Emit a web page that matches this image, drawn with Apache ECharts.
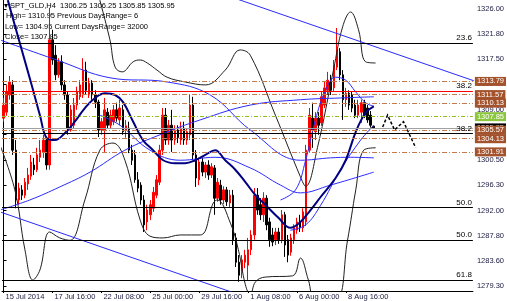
<!DOCTYPE html>
<html><head><meta charset="utf-8">
<script src="https://cdn.jsdelivr.net/npm/echarts@6/dist/echarts.min.js"></script>
<style>html,body{margin:0;padding:0;background:#fff}#c{width:507px;height:301px}</style>
</head><body><div id="c"></div>
<script>
// ---- data ----
const nSlots = 154;          // category slots across the plot (bars + right margin)
const tickStep = 16;         // bars between time labels
const xTickLabels = ['15 Jul 2014','17 Jul 16:00','22 Jul 08:00','25 Jul 00:00','29 Jul 16:00','1 Aug 08:00','6 Aug 00:00','8 Aug 16:00'];
const yTickValues = [1279.3,1283.6,1287.8,1292.0,1296.3,1300.5,1304.8,1309.0,1313.3,1317.5,1321.8,1326.0];

const opens = [1307.6,1308.6,1311.5,1313.2,1302.2,1293.8,1295.5,1294.6,1296.5,1297.8,
1299.7,1298.9,1301.0,1301.9,1303.9,1299.7,1320.8,1318.2,1314.9,1317.1,
1313.2,1311.5,1305.6,1306.4,1309.8,1311.2,1311.5,1315.7,1311.5,1313.5,
1311.5,1310.3,1305.6,1305.6,1308.6,1306.4,1307.0,1309.0,1307.3,1309.0,
1305.6,1305.9,1302.2,1301.4,1297.2,1296.3,1293.8,1290.1,1291.3,1292.4,
1294.6,1296.8,1302.2,1308.1,1303.9,1306.4,1303.9,1305.6,1303.9,1305.9,
1303.9,1304.8,1309.8,1301.4,1297.2,1300.2,1298.5,1299.7,1298.0,1299.2,
1294.1,1296.3,1293.8,1295.5,1293.3,1294.6,1287.4,1283.3,1281.7,1283.3,
1282.8,1285.4,1287.9,1294.6,1293.0,1291.3,1294.1,1290.1,1287.9,1287.1,
1288.4,1287.1,1291.3,1287.1,1285.0,1287.1,1288.7,1290.1,1289.1,1290.1,
1302.2,1307.6,1305.3,1307.6,1306.8,1309.8,1312.3,1313.7,1312.7,1316.2,
1318.8,1314.9,1310.7,1311.8,1311.5,1309.8,1308.1,1308.6,1310.2,1309.3,
1308.1,1306.25];
const closes = [1309.8,1312.0,1313.7,1302.2,1293.8,1295.8,1294.6,1296.8,1298.0,1300.2,
1298.9,1301.4,1302.2,1303.9,1299.7,1320.8,1317.4,1314.9,1317.1,1313.2,
1311.5,1305.9,1309.0,1309.8,1312.0,1313.2,1315.7,1312.3,1313.5,1311.5,
1310.3,1305.6,1307.0,1309.0,1306.4,1308.1,1309.0,1307.6,1309.3,1305.3,
1306.3,1302.2,1300.5,1297.2,1295.8,1293.8,1289.6,1292.1,1293.0,1295.1,
1297.2,1302.2,1308.1,1303.9,1306.4,1303.9,1305.6,1304.3,1305.9,1303.9,
1305.3,1309.8,1301.4,1297.5,1300.2,1298.5,1299.7,1298.0,1299.4,1294.1,
1296.8,1293.8,1295.5,1293.5,1294.6,1287.1,1283.3,1281.1,1283.7,1284.5,
1285.4,1287.9,1294.6,1292.1,1291.3,1294.1,1289.6,1287.1,1286.7,1288.4,
1287.1,1291.3,1286.2,1284.5,1287.4,1289.1,1290.1,1289.1,1291.8,1302.2,
1308.1,1305.6,1307.6,1306.4,1311.2,1312.7,1314.0,1312.3,1316.6,1319.1,
1314.9,1310.7,1311.8,1309.8,1309.3,1308.1,1309.8,1310.2,1308.1,1307.3,
1306.4,1305.95];
const lows = [1307.0,1308.0,1310.7,1301.4,1292.4,1293.0,1293.8,1294.1,1295.5,1297.2,
1298.0,1298.5,1300.2,1300.9,1298.9,1298.9,1316.6,1314.0,1314.4,1312.3,
1310.7,1304.8,1305.3,1305.9,1309.0,1310.7,1311.0,1311.5,1311.0,1310.7,
1309.3,1304.4,1304.8,1301.9,1305.9,1305.9,1306.4,1307.0,1306.4,1304.8,
1304.3,1301.7,1299.7,1296.7,1295.1,1293.0,1288.4,1288.7,1290.4,1291.8,
1294.1,1296.3,1301.4,1303.1,1303.1,1301.9,1303.1,1303.4,1303.1,1303.1,
1303.1,1303.9,1300.5,1296.0,1296.3,1297.8,1297.5,1297.2,1297.5,1291.3,
1293.5,1293.0,1293.1,1292.8,1292.6,1286.2,1282.5,1280.0,1280.6,1282.3,
1280.3,1284.5,1287.1,1291.3,1290.4,1290.1,1288.7,1285.9,1286.0,1286.2,
1286.4,1286.5,1284.2,1283.3,1284.4,1286.4,1288.1,1288.4,1288.4,1289.4,
1301.9,1302.6,1303.9,1304.8,1306.3,1309.3,1311.5,1311.5,1312.0,1315.7,
1314.0,1307.3,1309.5,1309.0,1308.6,1307.6,1307.6,1306.8,1307.6,1306.8,
1306.0,1305.85];
const highs = [1311.0,1313.2,1314.7,1314.0,1303.9,1296.7,1296.3,1297.5,1299.2,1301.4,
1300.9,1302.6,1303.9,1304.8,1304.4,1326.2,1322.5,1319.9,1317.7,1318.2,
1314.0,1312.0,1309.8,1311.0,1312.9,1314.0,1317.7,1317.1,1314.4,1314.0,
1312.3,1310.7,1307.6,1311.0,1309.3,1309.0,1309.8,1310.2,1310.7,1309.8,
1307.3,1307.0,1303.1,1302.2,1298.5,1296.8,1294.6,1293.0,1293.8,1296.0,
1298.0,1303.1,1309.3,1309.3,1307.3,1309.0,1306.4,1306.4,1307.0,1307.0,
1305.9,1311.5,1311.2,1302.2,1300.9,1300.9,1300.2,1300.5,1300.0,1299.7,
1297.5,1297.2,1296.1,1296.0,1295.5,1295.5,1288.2,1284.5,1284.5,1285.4,
1287.4,1288.7,1295.8,1295.8,1294.1,1295.1,1294.6,1290.8,1289.1,1289.1,
1289.1,1292.1,1291.8,1287.9,1288.1,1289.7,1290.8,1291.3,1292.4,1303.1,
1309.3,1310.2,1308.6,1308.6,1312.0,1313.7,1315.4,1314.9,1317.4,1322.8,
1319.4,1315.7,1312.7,1312.3,1312.0,1310.7,1310.7,1310.7,1310.7,1309.8,
1308.8,1306.25];

// indicator curves: [bar position, price]
const maNavy = [[1.4,1327.5],[5.3,1320.3],[9.2,1313.2],[11.9,1308.1],[14.2,1304.2],[16.8,1303.9],[20.1,1305.1],[23.3,1307.0],[26.6,1309.3],[29.9,1311.0],[33.2,1311.8],[36.5,1311.5],[39.1,1310.3],[42.4,1307.0],[45.6,1303.9],[48.9,1302.2],[52.2,1300.5],[56.1,1300.0],[59.4,1300.0],[62.7,1300.5],[66.0,1301.4],[69.2,1302.2],[72.5,1300.5],[75.8,1298.9],[79.1,1296.8],[82.4,1294.6],[85.6,1293.0],[89.9,1290.8],[93.8,1289.1],[97.1,1290.1],[100.4,1292.1],[103.7,1294.3],[108.6,1297.5],[111.9,1300.5],[115.2,1305.3],[118.4,1308.5],[121.1,1309.6]];
const bandUpperBlack = [[30.6,1329.2],[34.8,1320.8],[36.5,1316.2],[38.8,1315.4],[42.4,1317.1],[44.7,1317.4],[47.0,1316.9],[50.2,1315.7],[53.5,1314.5],[59.4,1313.7],[66.0,1313.2],[72.5,1315.7],[77.4,1319.1],[80.7,1318.2],[88.9,1308.1],[97.1,1297.7],[98.8,1296.1],[102.7,1302.7],[107.9,1315.7],[110.9,1323.0],[113.5,1325.5],[116.1,1322.5],[118.4,1317.1],[121.7,1316.9]];
const bandLowerBlack = [[-1.2,1303.1],[3.7,1295.5],[7.0,1285.4],[9.6,1280.3],[11.9,1282.0],[15.1,1288.4],[18.4,1287.4],[21.7,1287.0],[26.6,1293.8],[31.5,1302.2],[35.8,1303.4],[39.7,1300.5],[44.7,1290.4],[47.9,1287.7],[52.2,1287.4],[57.8,1287.9],[64.3,1287.9],[68.6,1293.3],[69.9,1293.8],[74.2,1289.9],[76.8,1285.4],[79.1,1279.5],[80.7,1277.8],[82.4,1280.0],[85.6,1280.8],[94.5,1281.0],[97.1,1284.0],[99.7,1280.3],[102.0,1276.9],[108.6,1276.9],[112.5,1287.0],[115.2,1295.5],[117.8,1302.2],[121.7,1302.6]];
const maSlowBlue = [[-1.2,1292.1],[8.6,1293.8],[18.4,1296.0],[28.3,1298.5],[39.7,1302.2],[51.2,1304.8],[64.3,1307.3],[80.7,1309.8],[97.1,1310.7],[110.2,1311.0],[121.1,1311.2]];
const maMidBlue = [[-1.2,1320.8],[17.4,1317.4],[34.8,1314.4],[53.5,1313.7],[67.6,1311.5],[80.7,1305.6],[97.1,1300.5],[106.9,1300.9],[113.5,1301.0],[121.1,1300.9]];
const maLowBlue = [[31.5,1308.1],[38.1,1306.4],[47.9,1302.2],[57.8,1300.5],[69.2,1301.0],[80.7,1299.2],[90.6,1296.3],[97.1,1295.0],[106.9,1296.3],[121.1,1298.5]];
const bbUpperBlue = [[90.6,1293.8],[95.5,1295.5],[98.8,1300.5],[102.0,1307.3],[105.3,1312.3],[108.6,1314.5],[111.9,1314.0],[115.2,1312.0],[118.4,1310.2],[121.1,1309.6]];
const bbLowerBlue = [[93.8,1288.7],[98.8,1289.6],[103.7,1292.9],[110.2,1298.9],[116.8,1303.9],[121.1,1306.4]];
const channelUpper = [[60,1330.6],[153.8,1313.9]];
const channelLower = [[-1.2,1291.8],[80,1277.3]];
const forecastPath = [[124.0,1306.1],[125.6,1308.1],[127.9,1305.6],[130.8,1307.0],[134.8,1302.6]];

// horizontal levels
const priceBoxLevels = [1313.79,1311.57,1310.13,1305.57,1304.13,1301.91];
const greenLevel = 1307.85;
const bidLevel = 1305.95;
const redLevel = 1312.2;
const fibLevels = [1320.27,1305.0,1292.56,1287.05,1280.3];
const fibTexts = ['23.6','38.2','50.0','50.0','61.8'];

// ---- chart ----
const categories = Array.from({length: nSlots}, (_, i) => String(i));
const candleData = opens.map((o, i) => [o, closes[i], lows[i], highs[i]]);
const fontFam = 'Liberation Sans, Arial, sans-serif';
const showTick = (i) => i % tickStep === 0 && i / tickStep < xTickLabels.length;

const brownLine = {color: '#c47a4a', width: 1, type: [5, 2, 1, 2]};
const boxLabel = (bg) => ({show: true, position: 'end', distance: 2, formatter: p => p.value.toFixed(2),
  backgroundColor: bg, color: '#fff', fontSize: 7.5, fontFamily: fontFam, padding: [1, 2, 0, 2], lineHeight: 8});
const fibLabel = (t) => ({show: true, position: 'insideEndTop', distance: 1, formatter: t, color: '#000', fontSize: 8, fontFamily: fontFam});

const markData = [];
fibLevels.forEach((v, i) => markData.push({yAxis: v, lineStyle: {color: '#000', width: 1, type: 'solid'}, label: fibLabel(fibTexts[i])}));
markData.push({yAxis: redLevel, lineStyle: {color: '#ff0000', width: 1, type: 'solid'}, label: fibLabel('38.2')});
markData.push({yAxis: greenLevel, lineStyle: {opacity: 0}, label: fibLabel('50.0')});
markData.push({yAxis: greenLevel, lineStyle: {color: '#8fbf1f', width: 1, type: [4, 2, 1, 2]}, label: boxLabel('#8cc63f')});
markData.push({yAxis: bidLevel, lineStyle: {color: '#a0a0a0', width: 1, type: 'solid'}, label: boxLabel('#000')});
priceBoxLevels.forEach(v => markData.push({yAxis: v, lineStyle: brownLine, label: boxLabel('#a4522c')}));

const lineSeries = (data, color, width) => ({type: 'line', xAxisIndex: 1, data, smooth: 0.4, symbol: 'none',
  lineStyle: {color, width}, z: 4, silent: true, animation: false});

const chart = echarts.init(document.getElementById('c'), null, {renderer: 'canvas'});
chart.setOption({
  animation: false,
  backgroundColor: '#fff',
  grid: {left: 2, right: 34, top: 0, bottom: 10},
  xAxis: [{
    type: 'category', data: categories, boundaryGap: true,
    axisLine: {show: true, lineStyle: {color: '#000', width: 1}},
    axisTick: {show: true, alignWithLabel: true, interval: showTick, length: 2, lineStyle: {color: '#000'}},
    axisLabel: {interval: showTick, formatter: (v, i) => xTickLabels[i / tickStep], align: 'left', padding: [0, 0, 0, 2],
      margin: 2, fontSize: 7.5, fontFamily: fontFam, color: '#1a1a40'},
    splitLine: {show: false}
  }, {
    type: 'value', min: -0.5, max: nSlots - 0.5, show: false
  }],
  yAxis: {
    type: 'value', position: 'right', min: 1278.45, max: 1327.52, scale: true,
    axisLine: {show: true, lineStyle: {color: '#000', width: 1}},
    axisTick: {show: true, length: 3, customValues: yTickValues, lineStyle: {color: '#000'}},
    axisLabel: {customValues: yTickValues, formatter: v => v.toFixed(2), fontSize: 7.5, fontFamily: fontFam, color: '#1a1a40', margin: 4},
    splitLine: {show: false}
  },
  series: [
    {type: 'candlestick', data: candleData, barWidth: 2, z: 3,
      itemStyle: {color: '#ff0000', color0: '#000', borderColor: '#ff0000', borderColor0: '#000', borderWidth: 1},
      markLine: {symbol: ['none', 'none'], silent: true, animation: false, precision: 2, data: markData}},
    lineSeries(bandUpperBlack, '#202020', 1),
    lineSeries(bandLowerBlack, '#202020', 1),
    lineSeries(maSlowBlue, '#2a2aff', 1),
    lineSeries(maMidBlue, '#2a2aff', 1),
    lineSeries(maLowBlue, '#2a2aff', 1),
    lineSeries(bbUpperBlue, '#2a2aff', 1),
    lineSeries(bbLowerBlue, '#2a2aff', 1),
    lineSeries(maNavy, '#000080', 2),
    Object.assign(lineSeries(channelUpper, '#2a2aff', 1), {smooth: false}),
    Object.assign(lineSeries(channelLower, '#2a2aff', 1), {smooth: false}),
    {type: 'lines', coordinateSystem: 'cartesian2d', xAxisIndex: 1, polyline: true, silent: true, z: 5,
      symbol: ['none', 'arrow'], symbolSize: 6,
      lineStyle: {color: '#000', width: 1.5, type: [3, 2], opacity: 1},
      data: [{coords: forecastPath}]}
  ],
  graphic: [
    {type: 'text', x: 4, y: 2, style: {text: '▾ SPT_GLD,H4  1306.25 1306.25 1305.85 1305.95', fill: '#000', font: '7.5px Liberation Sans'}},
    {type: 'text', x: 6, y: 12, style: {text: 'High= 1310.95 Previous DaysRange= 6', fill: '#000', font: '7.5px Liberation Sans'}},
    {type: 'text', x: 5, y: 23, style: {text: 'Low= 1304.95 Current DaysRange= 32000', fill: '#000', font: '7.5px Liberation Sans'}},
    {type: 'text', x: 5, y: 33, style: {text: 'Close= 1307.85', fill: '#000', font: '7.5px Liberation Sans'}}
  ]
});
</script></body></html>
